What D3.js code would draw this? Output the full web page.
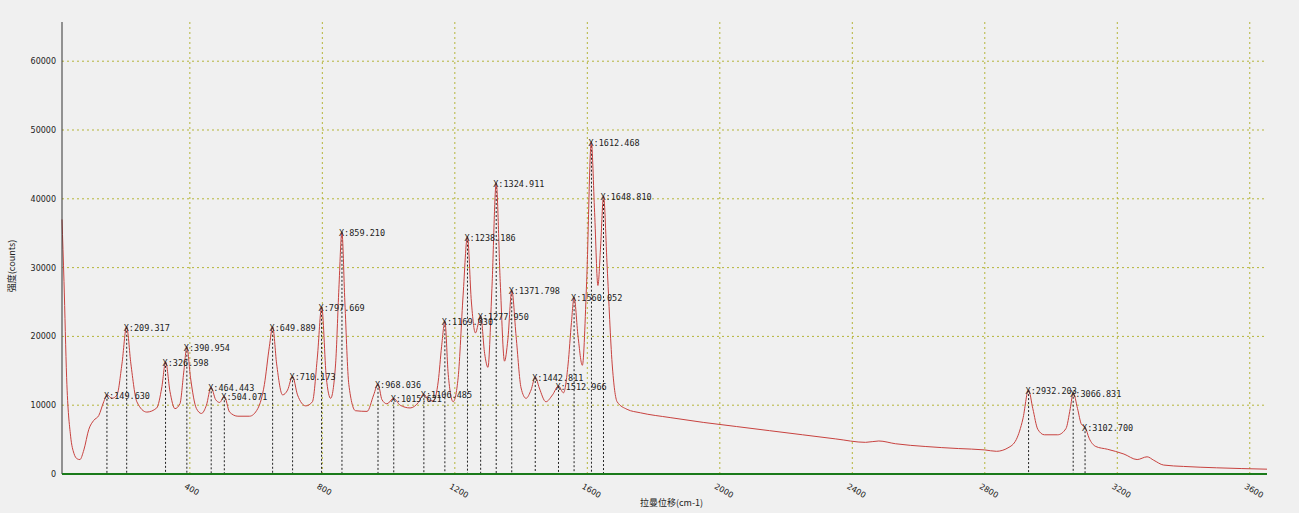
<!DOCTYPE html>
<html><head><meta charset="utf-8">
<script src="https://cdn.jsdelivr.net/npm/d3@7"></script>
<style>body{margin:0;background:#f0f0f0;}</style>
</head><body><svg id="c" width="1299" height="513"></svg>
<script>
// spectrum samples [shift, counts]
let spectrum = [[14,37000],[20,28000],[28,14000],[40,5500],[50,3000],[60,2200],[68,2100],[80,3500],[95,6500],[110,7800],[125,8500],[140,10500],[150,11500],[165,11000],[180,11500],[195,16000],[209,21400],[222,16000],[240,10500],[270,9000],[300,9600],[315,12500],[327,16300],[340,12000],[355,9500],[370,10200],[382,15000],[391,18500],[402,14000],[420,9500],[435,8800],[450,10000],[464,12600],[478,10800],[490,10400],[504,11300],[520,9000],[545,8400],[580,8400],[605,9500],[625,13000],[640,18500],[650,21400],[662,16000],[680,11500],[695,12200],[710,14200],[725,11500],[750,9900],[770,10500],[785,17000],[798,24300],[812,14000],[825,11000],[840,16000],[850,27000],[859,35200],[868,25000],[880,13000],[900,9200],[935,9100],[955,11500],[968,13100],[980,10800],[995,10200],[1015,11000],[1035,10000],[1065,9600],[1090,10400],[1106,11600],[1120,10800],[1135,10600],[1150,13500],[1160,18500],[1170,22200],[1180,14500],[1195,10500],[1210,14000],[1225,26000],[1238,34500],[1250,25000],[1262,20500],[1278,23000],[1290,17500],[1300,15500],[1312,27000],[1325,42300],[1337,28000],[1350,16400],[1360,19500],[1372,26700],[1385,20000],[1400,12500],[1415,11000],[1430,12200],[1443,14100],[1455,12500],[1475,10500],[1495,11500],[1513,12800],[1528,11800],[1542,16000],[1552,22000],[1560,25700],[1572,20000],[1585,15800],[1598,28000],[1612,48300],[1622,38000],[1632,27400],[1640,33000],[1649,40400],[1660,30000],[1675,16000],[1690,10500],[1720,9400],[1760,8900],[1850,8200],[1950,7500],[2050,6900],[2150,6300],[2250,5700],[2350,5100],[2440,4600],[2480,4800],[2530,4400],[2620,4000],[2720,3700],[2800,3500],[2835,3300],[2870,3800],[2895,5000],[2915,8000],[2932,12200],[2945,9500],[2960,6500],[2980,5700],[3020,5700],[3045,6600],[3058,9500],[3067,11800],[3080,9500],[3092,7200],[3103,6800],[3115,5200],[3135,4000],[3170,3600],[3220,2900],[3260,2100],[3290,2500],[3310,2000],[3340,1300],[3400,1100],[3500,900],[3652,700]];

let peakX = [149.630,209.317,326.598,390.954,464.443,504.071,649.889,710.173,797.669,859.210,968.036,1015.621,1106.485,1169.930,1238.186,1277.950,1324.911,1371.798,1442.811,1512.966,1560.052,1612.468,1648.810,2932.203,3066.831,3102.700];
let peakY = [11500,21400,16300,18500,12600,11300,21400,14200,24300,35200,13100,11000,11600,22200,34500,23000,42300,26700,14100,12800,25700,48300,40400,12200,11800,6800];

let xTicks = [400,800,1200,1600,2000,2400,2800,3200,3600];
let yTicks = [0,10000,20000,30000,40000,50000,60000];

let margin = { top: 22, right: 32, bottom: 39, left: 62 },
  width = 1299 - margin.left - margin.right,
  height = 513 - margin.top - margin.bottom;

let x = d3.scaleLinear().domain([14, 3652]).range([0, width]);
let y = d3.scaleLinear().domain([0, 65700]).range([height, 0]);

let svg = d3.select('#c').append('g')
  .attr('transform', 'translate(' + margin.left + ',' + margin.top + ')');

let grid = '#b5b53a';
svg.selectAll('.gx').data(xTicks).enter().append('line')
  .attr('x1', d => x(d)).attr('x2', d => x(d)).attr('y1', 0).attr('y2', height)
  .attr('stroke', grid).attr('stroke-dasharray', '2,3');
svg.selectAll('.gy').data(yTicks.slice(1)).enter().append('line')
  .attr('x1', 0).attr('x2', width).attr('y1', d => y(d)).attr('y2', d => y(d))
  .attr('stroke', grid).attr('stroke-dasharray', '2,3');

// peak markers
svg.selectAll('.pk').data(peakX).enter().append('line')
  .attr('x1', d => x(d)).attr('x2', d => x(d))
  .attr('y1', (d, i) => y(peakY[i])).attr('y2', height)
  .attr('stroke', '#222').attr('stroke-dasharray', '2,2');

let line = d3.line().x(d => x(d[0])).y(d => y(d[1])).curve(d3.curveMonotoneX);
svg.append('path').datum(spectrum).attr('d', line)
  .attr('fill', 'none').attr('stroke', '#c8423f').attr('stroke-width', 1);

svg.selectAll('.pl').data(peakX).enter().append('text')
  .attr('x', d => x(d) - 3).attr('y', (d, i) => y(peakY[i]) + 4)
  .text(d => 'X:' + d3.format('.3f')(d))
  .style('font-family', '"DejaVu Sans Mono", monospace').style('font-size', '8.5px').attr('fill', '#222');

// axes
svg.append('line').attr('x1', 0).attr('x2', 0).attr('y1', 0).attr('y2', height).attr('stroke', '#333');
svg.append('line').attr('x1', 0).attr('x2', width).attr('y1', height).attr('y2', height)
  .attr('stroke', '#1a7a1a').attr('stroke-width', 2);

svg.selectAll('.yl').data(yTicks).enter().append('text')
  .attr('x', -6).attr('y', d => y(d) + 3).attr('text-anchor', 'end')
  .text(d => d).style('font-family', 'DejaVu Sans').style('font-size', '8px').attr('fill', '#222');

svg.selectAll('.xl').data(xTicks).enter().append('text')
  .attr('transform', d => 'translate(' + (x(d) - 6) + ',' + (height + 14) + ') rotate(30)')
  .text(d => d).style('font-family', 'DejaVu Sans').style('font-size', '8px').attr('fill', '#222');

svg.append('text').attr('x', width / 2 + 7).attr('y', height + 32).attr('text-anchor', 'middle')
  .text('拉曼位移(cm-1)').style('font-family', '"Noto Sans CJK SC"').style('font-size', '9px').attr('fill', '#222');
svg.append('text').attr('transform', 'translate(-47,' + (height / 2 + 18) + ') rotate(-90)')
  .attr('text-anchor', 'middle')
  .text('强度(counts)').style('font-family', '"Noto Sans CJK SC"').style('font-size', '9px').attr('fill', '#222');
</script></body></html>
